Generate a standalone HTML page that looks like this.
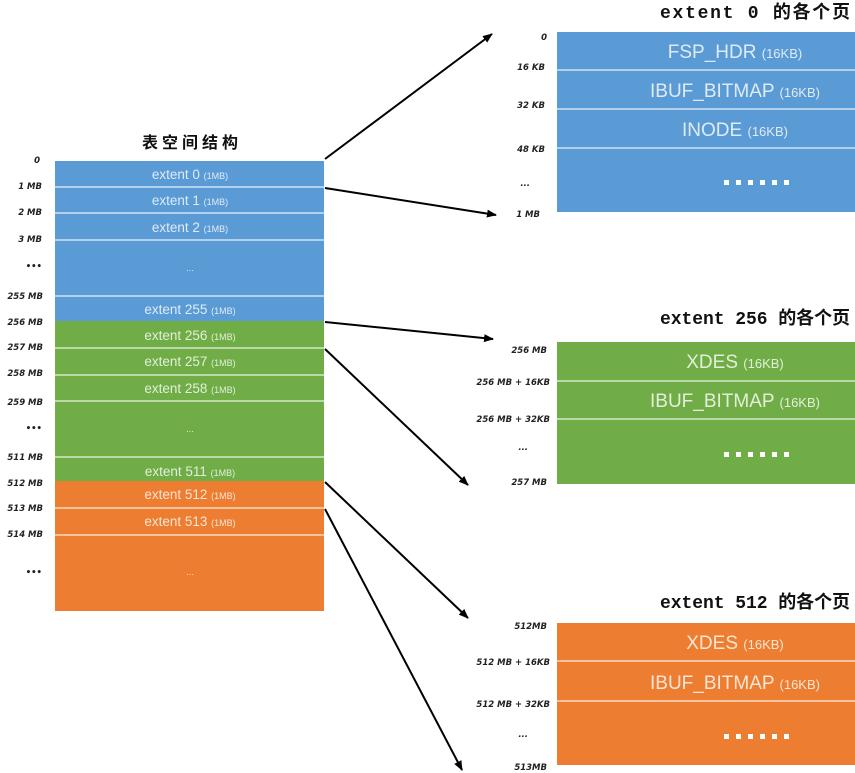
<!DOCTYPE html>
<html><head><meta charset="utf-8"><style>
html,body{margin:0;padding:0;background:#fff;}
svg{display:block;}
.bt{font-family:"Liberation Sans","DejaVu Sans",sans-serif;fill:#fff;fill-opacity:0.8;}
.lb{font-family:"DejaVu Sans","Liberation Sans",sans-serif;font-style:italic;font-weight:bold;font-size:8.5px;fill:#222;}
.tt{font-family:"Liberation Mono","Noto Sans CJK SC",monospace;font-weight:bold;font-size:18px;fill:#111;}
</style></head><body>
<svg width="855" height="773" viewBox="0 0 855 773" xmlns="http://www.w3.org/2000/svg">
<defs><marker id="ah" markerWidth="10" markerHeight="8" refX="9" refY="4" orient="auto" markerUnits="userSpaceOnUse"><path d="M0,0 L10,4 L0,8 Z" fill="#000"/></marker></defs>
<rect x="55" y="161" width="269" height="160" fill="#5b9bd5"/>
<rect x="55" y="321" width="269" height="160" fill="#70ad47"/>
<rect x="55" y="481" width="269" height="130" fill="#ed7d31"/>
<g stroke="#fff" stroke-opacity="0.7" stroke-width="1.5">
<line x1="55" x2="324" y1="187" y2="187"/><line x1="55" x2="324" y1="213" y2="213"/><line x1="55" x2="324" y1="240" y2="240"/><line x1="55" x2="324" y1="296" y2="296"/>
<line x1="55" x2="324" y1="348" y2="348"/><line x1="55" x2="324" y1="375" y2="375"/><line x1="55" x2="324" y1="401" y2="401"/><line x1="55" x2="324" y1="457" y2="457"/>
<line x1="55" x2="324" y1="508" y2="508"/><line x1="55" x2="324" y1="535" y2="535"/>
</g>
<g class="bt" text-anchor="middle" font-size="13.5">
<text x="190" y="179">extent 0 <tspan font-size="9">(1MB)</tspan></text>
<text x="190" y="205">extent 1 <tspan font-size="9">(1MB)</tspan></text>
<text x="190" y="232">extent 2 <tspan font-size="9">(1MB)</tspan></text>
<text x="190" y="271" font-size="9">...</text>
<text x="190" y="314">extent 255 <tspan font-size="9">(1MB)</tspan></text>
<text x="190" y="340">extent 256 <tspan font-size="9">(1MB)</tspan></text>
<text x="190" y="366">extent 257 <tspan font-size="9">(1MB)</tspan></text>
<text x="190" y="393">extent 258 <tspan font-size="9">(1MB)</tspan></text>
<text x="190" y="432" font-size="9">...</text>
<text x="190" y="476">extent 511 <tspan font-size="9">(1MB)</tspan></text>
<text x="190" y="499">extent 512 <tspan font-size="9">(1MB)</tspan></text>
<text x="190" y="526">extent 513 <tspan font-size="9">(1MB)</tspan></text>
<text x="190" y="575" font-size="9">...</text>
</g>
<g class="lb" text-anchor="end">
<text x="40" y="163">0</text><text x="42" y="189">1 MB</text><text x="42" y="215">2 MB</text><text x="42" y="242">3 MB</text><text x="42" y="269">•••</text>
<text x="43" y="299">255 MB</text><text x="43" y="325">256 MB</text><text x="43" y="350">257 MB</text><text x="43" y="376">258 MB</text><text x="43" y="405">259 MB</text><text x="42" y="431">•••</text>
<text x="43" y="460">511 MB</text><text x="43" y="486">512 MB</text><text x="43" y="511">513 MB</text><text x="43" y="537">514 MB</text><text x="42" y="575">•••</text>
</g>
<text x="192" y="148" text-anchor="middle" font-family="'Noto Sans CJK SC',sans-serif" font-weight="bold" font-size="16" letter-spacing="4" fill="#111">表空间结构</text>
<rect x="557" y="32" width="298" height="180" fill="#5b9bd5"/>
<rect x="557" y="342" width="298" height="142" fill="#70ad47"/>
<rect x="557" y="623" width="298" height="142" fill="#ed7d31"/>
<g stroke="#fff" stroke-opacity="0.7" stroke-width="1.5">
<line x1="557" x2="855" y1="70" y2="70"/><line x1="557" x2="855" y1="109" y2="109"/><line x1="557" x2="855" y1="148" y2="148"/>
<line x1="557" x2="855" y1="381" y2="381"/><line x1="557" x2="855" y1="419" y2="419"/>
<line x1="557" x2="855" y1="661" y2="661"/><line x1="557" x2="855" y1="701" y2="701"/>
</g>
<g class="bt" text-anchor="middle" font-size="19">
<text x="735" y="58">FSP_HDR <tspan font-size="13">(16KB)</tspan></text>
<text x="735" y="97">IBUF_BITMAP <tspan font-size="13">(16KB)</tspan></text>
<text x="735" y="136">INODE <tspan font-size="13">(16KB)</tspan></text>
<text x="735" y="368">XDES   <tspan font-size="13">(16KB)</tspan></text>
<text x="735" y="407">IBUF_BITMAP <tspan font-size="13">(16KB)</tspan></text>
<text x="735" y="649">XDES   <tspan font-size="13">(16KB)</tspan></text>
<text x="735" y="689">IBUF_BITMAP <tspan font-size="13">(16KB)</tspan></text>
</g>
<g fill="#fff">
<g id="dots"><rect x="724" y="180" width="5" height="5"/><rect x="736" y="180" width="5" height="5"/><rect x="748" y="180" width="5" height="5"/><rect x="760" y="180" width="5" height="5"/><rect x="772" y="180" width="5" height="5"/><rect x="784" y="180" width="5" height="5"/></g>
<use href="#dots" y="272"/>
<use href="#dots" y="554"/>
</g>
<g class="lb" text-anchor="end">
<text x="547" y="40">0</text><text x="545" y="70">16 KB</text><text x="545" y="108">32 KB</text><text x="545" y="152">48 KB</text><text x="530" y="186">...</text><text x="540" y="217">1 MB</text>
<text x="547" y="353">256 MB</text><text x="550" y="385">256 MB + 16KB</text><text x="550" y="422">256 MB + 32KB</text><text x="528" y="450">...</text><text x="547" y="485">257 MB</text>
<text x="547" y="629">512MB</text><text x="550" y="665">512 MB + 16KB</text><text x="550" y="707">512 MB + 32KB</text><text x="528" y="737">...</text><text x="547" y="770">513MB</text>
</g>
<g class="tt">
<text x="660" y="18" textLength="190" lengthAdjust="spacing">extent 0 的各个页</text>
<text x="660" y="324" textLength="190" lengthAdjust="spacing">extent 256 的各个页</text>
<text x="660" y="608" textLength="190" lengthAdjust="spacing">extent 512 的各个页</text>
</g>
<g stroke="#000" stroke-width="2" fill="none" marker-end="url(#ah)">
<line x1="325" y1="159" x2="492" y2="34"/>
<line x1="325" y1="188" x2="496" y2="215"/>
<line x1="325" y1="322" x2="493" y2="339"/>
<line x1="325" y1="349" x2="468" y2="485"/>
<line x1="325" y1="482" x2="468" y2="618"/>
<line x1="325" y1="509" x2="462" y2="770"/>
</g>
</svg>
</body></html>
